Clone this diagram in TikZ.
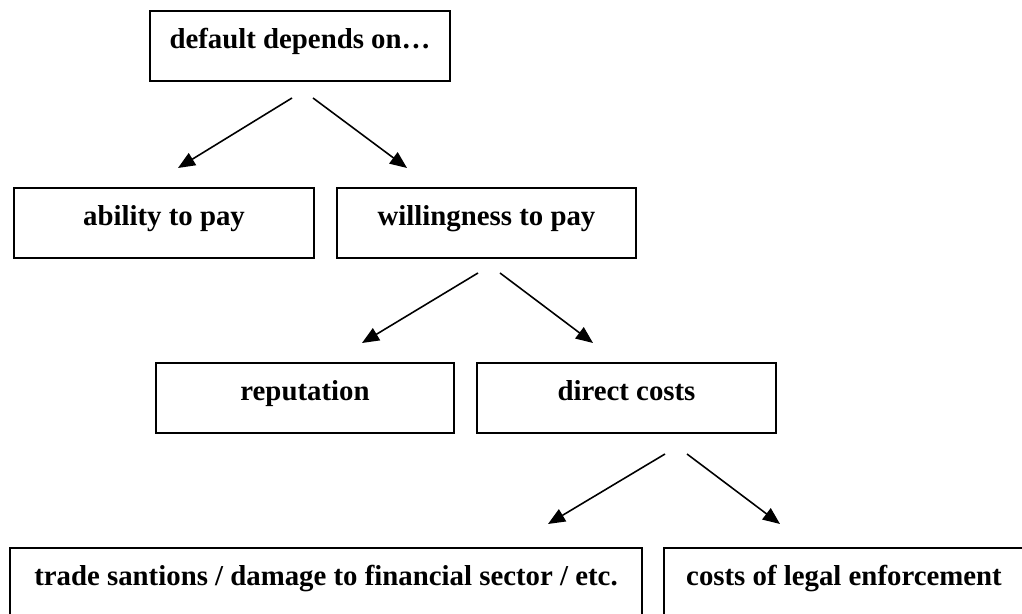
\documentclass[tikz,border=0pt]{standalone}
\usepackage{fontspec}
\setmainfont{Liberation Serif}
\usepackage{tikz}
\usetikzlibrary{positioning,arrows.meta,calc}
\definecolor{dboxline}{HTML}{000000}
\tikzset{dbox/.style={rectangle, draw=dboxline, line width=1.1pt, minimum width=6cm, minimum height=1.4cm, inner sep=0pt, align=center, text height=11pt, text depth=8pt, font=\fontsize{16.4}{19}\selectfont\bfseries}}
\tikzset{dedge/.style={-{Triangle[length=0.34cm, width=0.28cm]}, draw=dboxline, line width=0.9pt}}

\begin{document}
\begin{tikzpicture}[x=0.02cm, y=-0.02cm]
  \useasboundingbox (0,0) rectangle (1022,614);
  \clip (0,0) rectangle (1022,614);

  \node[dbox] (root) at (300,46) {default depends on\dots};

  \node[dbox] (ability) at (164,223) {ability to pay};
  \node[dbox, minimum width=5.98cm] (willing) at (486.5,223) {willingness to pay};

  \node[dbox, minimum width=5.96cm] (reput) at (305,398) {reputation};
  \node[dbox, minimum width=5.98cm] (direct) at (626.5,398) {direct costs};

  \node[dbox, minimum width=12.64cm] (trade) at (326,583) {trade santions / damage to financial sector / etc.};
  \node[dbox, minimum width=7.2cm] (legal) at (844,583) {costs of legal enforcement};

  % arrow ends stand free of the boxes
  \coordinate (rootL) at (292,98);
  \coordinate (rootR) at (313,98);
  \coordinate (abilityT) at (178,168);
  \coordinate (willingT) at (407,168);
  \coordinate (willingL) at (478,273);
  \coordinate (willingR) at (500,273);
  \coordinate (reputT) at (362,343);
  \coordinate (directT) at (593,343);
  \coordinate (directL) at (665,454);
  \coordinate (directR) at (687,454);
  \coordinate (tradeT) at (548,524);
  \coordinate (legalT) at (780,524);

  \draw[dedge] (rootL) -- (abilityT);
  \draw[dedge] (rootR) -- (willingT);
  \draw[dedge] (willingL) -- (reputT);
  \draw[dedge] (willingR) -- (directT);
  \draw[dedge] (directL) -- (tradeT);
  \draw[dedge] (directR) -- (legalT);
\end{tikzpicture}
\end{document}
